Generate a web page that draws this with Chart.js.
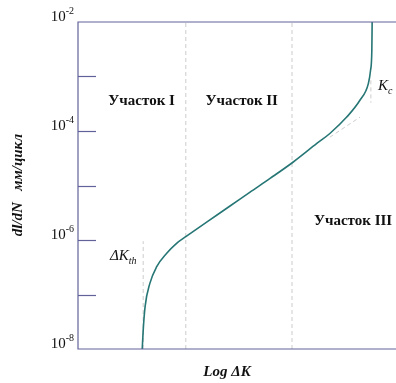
<!DOCTYPE html>
<html>
<head>
<meta charset="utf-8">
<script src="https://cdn.jsdelivr.net/npm/chart.js@4"></script>
<style>
  html, body { margin: 0; padding: 0; background: #fff; }
  #wrap { width: 396px; height: 383px; }
</style>
</head>
<body>
<div id="wrap"><canvas id="myChart"></canvas></div>
<script>
// crack growth curve (x = log dK, arbitrary units 0..100)
var curveX = [20.2, 20.5, 21.1, 22.6, 24.7, 27.9, 31.0, 33.9, 40.8, 47.8, 54.0, 60.4, 67.7, 75.1, 79.2, 84.5, 88.7, 91.3, 92.0, 92.4, 92.5];
var curveY = [1e-8, 2.2e-8, 6.0e-8, 1.6e-7, 3.2e-7, 5.7e-7, 8.7e-7, 1.15e-6, 2.2e-6, 4.2e-6, 7.5e-6, 1.35e-5, 2.7e-5, 5.9e-5, 9.0e-5, 1.8e-4, 3.7e-4, 7.4e-4, 1.3e-3, 3.0e-3, 1e-2];

// region borders and helper lines
var regionBorders = [33.9, 67.3];
var thX = 20.5, thTop = 9.5e-7;
var kcX = 92.1, kcRange = [8.5e-4, 3.3e-4];
var parisX = [79.2, 88.7], parisY = [7.7e-5, 1.8e-4];

var yTicks = [1e-3, 1e-4, 1e-5, 1e-6, 1e-7];
var yLabels = [[1e-8, '-8'], [1e-6, '-6'], [1e-4, '-4'], [1e-2, '-2']];
var regions = [['Участок I', 20, 3.5e-4], ['Участок II', 51.5, 3.5e-4], ['Участок III', 86.5, 2.2e-6]];

var axisColor = '#62629a';
var dashColor = '#cccccc';
var serif = '"Liberation Serif", "Times New Roman", serif';

function pts(xs, ys) {
  return xs.map(function (x, i) { return { x: x, y: ys[i] }; });
}

var dashed = {
  borderColor: dashColor, borderWidth: 1, borderDash: [4, 3],
  pointRadius: 0, fill: false
};

var datasets = [{
  data: pts(curveX, curveY),
  borderColor: '#267675',
  borderWidth: 1.6,
  pointRadius: 0,
  cubicInterpolationMode: 'monotone',
  fill: false
}];
regionBorders.forEach(function (x) {
  datasets.push(Object.assign({ data: [{ x: x, y: 1e-8 }, { x: x, y: 1e-2 }] }, dashed));
});
datasets.push(Object.assign({ data: [{ x: thX, y: 1e-8 }, { x: thX, y: thTop }] }, dashed));
datasets.push(Object.assign({ data: [{ x: kcX, y: kcRange[0] }, { x: kcX, y: kcRange[1] }] }, dashed));
datasets.push(Object.assign({ data: pts(parisX, parisY) }, dashed));

var decor = {
  id: 'decor',
  afterDraw: function (chart) {
    var ctx = chart.ctx, a = chart.chartArea;
    var xs = chart.scales.x, ys = chart.scales.y;
    ctx.save();
    // axis lines
    ctx.strokeStyle = axisColor;
    ctx.lineWidth = 1.2;
    ctx.beginPath();
    ctx.moveTo(a.right, a.top); ctx.lineTo(a.left, a.top);
    ctx.lineTo(a.left, a.bottom); ctx.lineTo(a.right, a.bottom);
    ctx.stroke();
    // inner ticks
    yTicks.forEach(function (v) {
      var y = Math.round(ys.getPixelForValue(v)) + 0.5;
      ctx.beginPath(); ctx.moveTo(a.left, y); ctx.lineTo(a.left + 18, y); ctx.stroke();
    });
    // tick labels
    ctx.fillStyle = '#111';
    ctx.textBaseline = 'middle';
    yLabels.forEach(function (l) {
      var y = ys.getPixelForValue(l[0]) - 5;
      ctx.font = '10px ' + serif;
      ctx.textAlign = 'right';
      var ew = ctx.measureText(l[1]).width;
      ctx.fillText(l[1], a.left - 4, y - 6);
      ctx.font = '15px ' + serif;
      ctx.fillText('10', a.left - 4 - ew, y);
    });
    // region labels
    ctx.textAlign = 'center';
    ctx.font = 'bold 15px ' + serif;
    regions.forEach(function (r) {
      ctx.fillText(r[0], xs.getPixelForValue(r[1]), ys.getPixelForValue(r[2]));
    });
    // dK_th
    ctx.textAlign = 'left';
    ctx.font = 'italic 15px ' + serif;
    ctx.fillText('ΔK', 110, 256);
    var w = ctx.measureText('ΔK').width;
    ctx.font = 'italic 10px ' + serif;
    ctx.fillText('th', 110 + w, 261);
    // K_c
    ctx.font = 'italic 15px ' + serif;
    ctx.fillText('K', 378, 86);
    w = ctx.measureText('K').width;
    ctx.font = 'italic 10px ' + serif;
    ctx.fillText('c', 378 + w, 91);
    // x title
    ctx.textAlign = 'center';
    ctx.font = 'bold italic 15px ' + serif;
    ctx.fillText('Log ΔK', (a.left + a.right) / 2 - 10, 372);
    // y title
    ctx.translate(18, 185);
    ctx.rotate(-Math.PI / 2);
    ctx.font = 'bold italic 15px ' + serif;
    ctx.fillText('dl/dN   мм/цикл', 0, 0);
    ctx.restore();
  }
};

new Chart('myChart', {
  type: 'line',
  data: { datasets: datasets },
  options: {
    responsive: true,
    maintainAspectRatio: false,
    animation: false,
    layout: { padding: { left: 78, top: 22, right: 0, bottom: 34 } },
    plugins: { legend: { display: false }, tooltip: { enabled: false } },
    scales: {
      x: { type: 'linear', min: 0, max: 100, display: false },
      y: { type: 'logarithmic', min: 1e-8, max: 1e-2, display: false }
    }
  },
  plugins: [decor]
});
</script>
</body>
</html>
